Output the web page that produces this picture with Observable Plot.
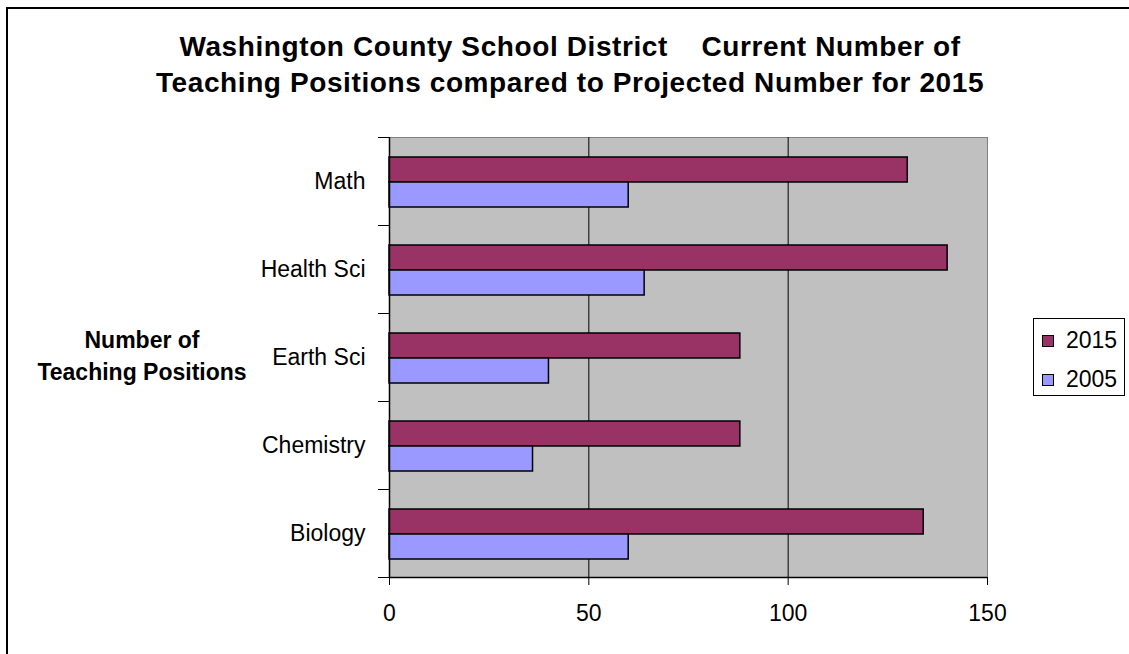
<!DOCTYPE html>
<html>
<head>
<meta charset="utf-8">
<script src="https://cdn.jsdelivr.net/npm/d3@7"></script>
<script src="https://cdn.jsdelivr.net/npm/@observablehq/plot@0.6"></script>
<style>
  html, body { margin: 0; padding: 0; background: #fff; }
  body { position: relative; width: 1129px; height: 654px; overflow: hidden; font-family: "Liberation Sans", Arial, sans-serif; }
  #outer { position: absolute; left: 6px; top: 7px; width: 2000px; height: 2000px; border-left: 2px solid #000; border-top: 2px solid #000; }
  #chart { position: absolute; left: 0; top: 0; }
  #title { position: absolute; left: 0; top: 29px; width: 1140px; text-align: center; font-weight: bold; font-size: 28px; line-height: 36px; letter-spacing: 0.6px; white-space: pre; color: #000; }
  #ytitle { position: absolute; left: 32px; top: 324px; width: 220px; text-align: center; font-weight: bold; font-size: 23px; line-height: 32px; color: #000; }
  #legend { position: absolute; left: 1033px; top: 318px; width: 92px; height: 78px; border: 1px solid #000; box-sizing: border-box; background: #fff; }
  .item { position: absolute; left: 8px; font-size: 23px; line-height: 26px; color: #000; white-space: nowrap; }
  .sw { display: inline-block; width: 10px; height: 10px; border: 1px solid #000; margin-right: 12px; vertical-align: 1px; }
</style>
</head>
<body>
<div id="outer"></div>
<div id="chart"></div>
<div id="title"></div>
<div id="ytitle">Number of<br>Teaching Positions</div>
<div id="legend"></div>
<script>
// ---- data ----
const categories = ["Math", "Health Sci", "Earth Sci", "Chemistry", "Biology"];
const series = ["2015", "2005"];
const values2015 = [130, 140, 88, 88, 134];
const values2005 = [60, 64, 40, 36, 60];
const seriesColors = ["#993366", "#9999FF"];
const xTicks = [0, 50, 100, 150];
const titleLines = ["Washington County School District    Current Number of", "Teaching Positions compared to Projected Number for 2015"];

// ---- layout ----
const W = 1129, H = 654;
const mL = 389, mR = 142, mT = 137, mB = 77;
const step = (H - mT - mB) / categories.length;
const barH = 25, gapTop = 20;

const rows = categories.flatMap((c, i) => [
  {category: c, series: series[0], value: values2015[i]},
  {category: c, series: series[1], value: values2005[i]}
]);

const chart = Plot.plot({
  width: W,
  height: H,
  marginLeft: mL,
  marginRight: mR,
  marginTop: mT,
  marginBottom: mB,
  style: {fontFamily: "Liberation Sans, Arial, sans-serif", fontSize: "23px", background: "transparent", color: "#000"},
  x: {domain: [0, 150], ticks: xTicks, label: null},
  y: {domain: categories, padding: 0, label: null},
  color: {domain: series, range: seriesColors},
  marks: [
    Plot.frame({fill: "#c0c0c0", stroke: "#808080"}),
    Plot.ruleX(xTicks.filter(d => d > 0 && d < 150), {stroke: "#000", strokeWidth: 1}),
    Plot.barX(rows.filter(d => d.series === series[0]), {
      x: "value", y: "category", fill: "series", stroke: "#000", strokeWidth: 1.5,
      insetTop: gapTop, insetBottom: step - gapTop - barH
    }),
    Plot.barX(rows.filter(d => d.series === series[1]), {
      x: "value", y: "category", fill: "series", stroke: "#000", strokeWidth: 1.5,
      insetTop: gapTop + barH, insetBottom: step - gapTop - 2 * barH
    }),
    Plot.ruleX([0], {stroke: "#000", strokeWidth: 1.5}),
    Plot.ruleY([categories[categories.length - 1]], {stroke: "#000", strokeWidth: 1.5, dy: step / 2}),
    Plot.axisX({ticks: xTicks, tickSize: 8, tickPadding: 19, fontSize: 23, label: null}),
    Plot.axisY({tickSize: 0, tickPadding: 24, fontSize: 23, label: null}),
    Plot.axisY({tickSize: 11, tickFormat: () => "", dy: -step / 2, label: null}),
    Plot.axisY({ticks: [categories[categories.length - 1]], tickSize: 11, tickFormat: () => "", dy: step / 2, label: null})
  ]
});
document.getElementById("chart").appendChild(chart);

document.getElementById("title").textContent = titleLines.join("\n");

const legend = document.getElementById("legend");
series.forEach((s, i) => {
  const item = document.createElement("div");
  item.className = "item";
  item.style.top = (8 + i * 39) + "px";
  const sw = document.createElement("span");
  sw.className = "sw";
  sw.style.background = seriesColors[i];
  item.appendChild(sw);
  item.appendChild(document.createTextNode(s));
  legend.appendChild(item);
});
</script>
</body>
</html>
